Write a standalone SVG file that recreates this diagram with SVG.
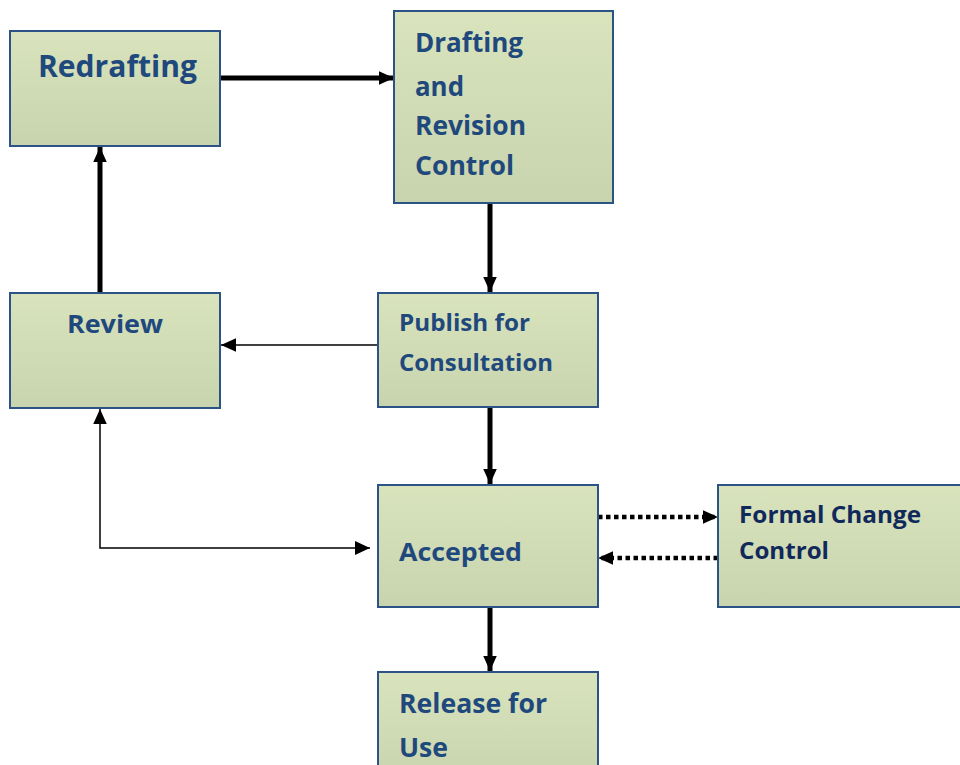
<svg xmlns="http://www.w3.org/2000/svg" width="960" height="765" viewBox="0 0 960 765">
<style>
.box{fill:url(#g);stroke:#2c5385;stroke-width:2}
.t{font-family:"Open Sans","Liberation Sans",sans-serif;font-weight:bold;fill:#1f497d}
.t2{font-family:"Open Sans","Liberation Sans",sans-serif;font-weight:bold;fill:#10295a}
.thick{stroke:#000;stroke-width:5;fill:none}
.thin{stroke:#000;stroke-width:1.5;fill:none}
.dot{stroke:#000;stroke-width:4.5;fill:none;stroke-dasharray:4.5 3.5}
</style>
<defs>
<linearGradient id="g" x1="0" y1="0" x2="0" y2="1">
<stop offset="0" stop-color="#d9e4bd"/>
<stop offset="1" stop-color="#c8d4ae"/>
</linearGradient>
<marker id="c" viewBox="0 0 10 10" refX="10" refY="5" markerWidth="15" markerHeight="15" orient="auto" markerUnits="userSpaceOnUse"><path d="M0,0.5L10,5L0,9.5z" fill="#000"/></marker>
</defs>
<g id="connectors">
<line class="thick" x1="220" y1="78" x2="394" y2="78" marker-end="url(#c)"/>
<line class="thick" x1="490" y1="203" x2="490" y2="292" marker-end="url(#c)"/>
<line class="thin" x1="378" y1="345" x2="221" y2="345" marker-end="url(#c)"/>
<line class="thick" x1="100" y1="293" x2="100" y2="147" marker-end="url(#c)"/>
<line class="thick" x1="490" y1="407" x2="490" y2="484" marker-end="url(#c)"/>
<path class="thin" d="M370,548H100V409" marker-end="url(#c)"/>
<path d="M355,541L370,548L355,555z" fill="#000"/>
<line class="dot" x1="598" y1="517" x2="718" y2="517" marker-end="url(#c)"/>
<line class="dot" x1="718" y1="558" x2="598" y2="558" marker-end="url(#c)"/>
<line class="thick" x1="490" y1="607" x2="490" y2="671" marker-end="url(#c)"/>
</g>
<g id="redrafting">
<rect class="box" x="10" y="31" width="210" height="115"/>
<text class="t" x="38" y="77" font-size="30" textLength="159" lengthAdjust="spacingAndGlyphs">Redrafting</text>
</g>
<g id="drafting">
<rect class="box" x="394" y="11" width="219" height="192"/>
<text class="t" x="415" y="52" font-size="26" textLength="108" lengthAdjust="spacingAndGlyphs">Drafting</text>
<text class="t" x="415" y="96" font-size="26" textLength="49" lengthAdjust="spacingAndGlyphs">and</text>
<text class="t" x="415" y="135" font-size="26" textLength="111" lengthAdjust="spacingAndGlyphs">Revision</text>
<text class="t" x="415" y="175" font-size="26" textLength="99" lengthAdjust="spacingAndGlyphs">Control</text>
</g>
<g id="review">
<rect class="box" x="10" y="293" width="210" height="115"/>
<text class="t" x="67" y="333" font-size="25" textLength="96" lengthAdjust="spacingAndGlyphs">Review</text>
</g>
<g id="publish">
<rect class="box" x="378" y="293" width="220" height="114"/>
<text class="t" x="399" y="331" font-size="24" textLength="131" lengthAdjust="spacingAndGlyphs">Publish for</text>
<text class="t" x="399" y="371" font-size="24" textLength="154" lengthAdjust="spacingAndGlyphs">Consultation</text>
</g>
<g id="accepted">
<rect class="box" x="378" y="485" width="220" height="122"/>
<text class="t" x="399" y="561" font-size="25" textLength="123" lengthAdjust="spacingAndGlyphs">Accepted</text>
</g>
<g id="formal">
<rect class="box" x="718" y="485" width="250" height="122"/>
<text class="t2" x="739" y="523" font-size="24" textLength="182" lengthAdjust="spacingAndGlyphs">Formal Change</text>
<text class="t2" x="739" y="559" font-size="24" textLength="90" lengthAdjust="spacingAndGlyphs">Control</text>
</g>
<g id="release">
<rect class="box" x="378" y="672" width="220" height="110"/>
<text class="t" x="399" y="713" font-size="26" textLength="148" lengthAdjust="spacingAndGlyphs">Release for</text>
<text class="t" x="399" y="757" font-size="26" textLength="49" lengthAdjust="spacingAndGlyphs">Use</text>
</g>
</svg>
